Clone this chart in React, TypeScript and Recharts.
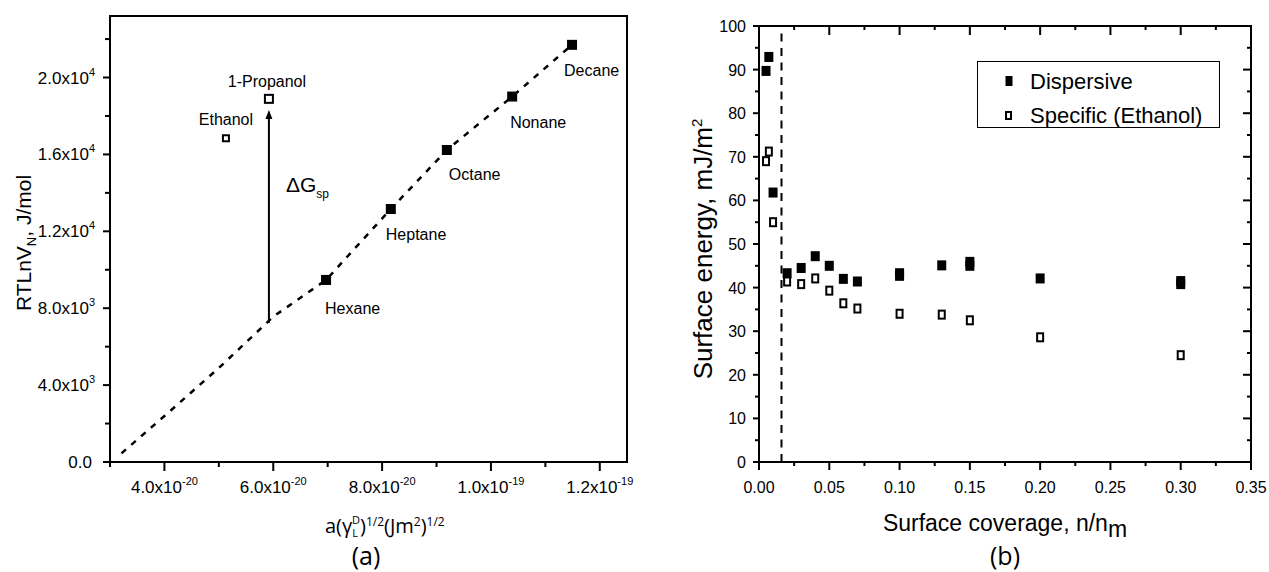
import React from 'react';
import { ComposedChart, Scatter, Line, XAxis, YAxis, ReferenceLine, Legend, Label } from 'recharts';

const FONT = '"Liberation Sans", Arial, sans-serif';
const FONT2 = '"Open Sans", "Liberation Sans", sans-serif';

// ---------- Panel (a) data (x in units of 1e-20) ----------
const alkaneNames = ['Hexane', 'Heptane', 'Octane', 'Nonane', 'Decane'];
const alkaneX = [6.97, 8.16, 9.19, 10.39, 11.49];
const alkaneY = [9470, 13160, 16230, 19010, 21700];
const alcoholNames = ['Ethanol', '1-Propanol'];
const alcoholX = [5.13, 5.92];
const alcoholY = [16840, 18890];
const trendX = [3.21, 4.0, 5.0, 6.0, 6.97, 8.16, 9.19, 10.39, 11.49];
const trendY = [450, 2390, 4890, 7560, 9470, 13160, 16230, 19010, 21700];
const deltaGX = 5.92;
const deltaGFrom = 7230;
const deltaGTo = 18310;
const aXDomain: [number, number] = [3, 12.5];
const aYDomain: [number, number] = [0, 23200];
const aXMajor = [4, 6, 8, 10, 12];
const aXMinor = [3, 5, 7, 9, 11];
const aXTickBase = ['4.0x10', '6.0x10', '8.0x10', '1.0x10', '1.2x10'];
const aXTickExp = ['-20', '-20', '-20', '-19', '-19'];
const aYMajor = [0, 4000, 8000, 12000, 16000, 20000];
const aYMinor = [2000, 6000, 10000, 14000, 18000, 22000];
const aYTickBase = ['0.0', '4.0x10', '8.0x10', '1.2x10', '1.6x10', '2.0x10'];
const aYTickExp = ['', '3', '3', '4', '4', '4'];

// ---------- Panel (b) data ----------
const seriesNames = ['Dispersive', 'Specific (Ethanol)'];
const dispX = [0.005, 0.007, 0.01, 0.02, 0.03, 0.04, 0.05, 0.06, 0.07, 0.10, 0.10, 0.13, 0.15, 0.15, 0.20, 0.30, 0.30];
const dispY = [89.7, 92.9, 61.8, 43.3, 44.5, 47.2, 45.0, 42.0, 41.4, 42.7, 43.3, 45.1, 45.0, 45.9, 42.1, 40.8, 41.5];
const specX = [0.005, 0.007, 0.01, 0.02, 0.03, 0.04, 0.05, 0.06, 0.07, 0.10, 0.13, 0.15, 0.20, 0.30];
const specY = [69.0, 71.2, 55.0, 41.4, 40.8, 42.1, 39.3, 36.4, 35.2, 34.0, 33.8, 32.5, 28.6, 24.5];
const monolayerLimit = 0.016;
const bXDomain: [number, number] = [0, 0.35];
const bYDomain: [number, number] = [0, 100];
const bXMajor = [0, 0.05, 0.1, 0.15, 0.2, 0.25, 0.3, 0.35];
const bXMinor = [0.025, 0.075, 0.125, 0.175, 0.225, 0.275, 0.325];
const bYMajor = [0, 10, 20, 30, 40, 50, 60, 70, 80, 90, 100];
const bYMinor = [5, 15, 25, 35, 45, 55, 65, 75, 85, 95];

// ---------- derived tables ----------
const alkanes = alkaneNames.map((n, i) => ({ name: n, x: alkaneX[i], y: alkaneY[i] }));
const alcohols = alcoholNames.map((n, i) => ({ name: n, x: alcoholX[i], y: alcoholY[i] }));
const trend = trendX.map((x, i) => ({ x, y: trendY[i] }));
const disp = dispX.map((x, i) => ({ x, y: dispY[i] }));
const spec = specX.map((x, i) => ({ x, y: specY[i] }));

// ---------- styles ----------
const axisStyle: any = { stroke: '#000', strokeWidth: 2, strokeLinecap: 'square' };
const labelPlace: Record<string, { dx: number; dy: number; anchor: 'start' | 'middle' }> = {
  Hexane: { dx: -1, dy: 34, anchor: 'start' },
  Heptane: { dx: -5, dy: 31, anchor: 'start' },
  Octane: { dx: 2, dy: 30, anchor: 'start' },
  Nonane: { dx: -2, dy: 31, anchor: 'start' },
  Decane: { dx: -8, dy: 31, anchor: 'start' },
  Ethanol: { dx: 0, dy: -13, anchor: 'middle' },
  '1-Propanol': { dx: -2, dy: -12, anchor: 'middle' },
};
const openSize: Record<string, number> = { Ethanol: 6, '1-Propanol': 8 };

const idx = (list: number[], v: number) => list.findIndex((m) => Math.abs(m - v) < 1e-9);
const sortNum = (a: number[]) => [...a].sort((p, q) => p - q);

// ---------- Panel (a) ticks ----------
const BottomTickA = (props: any) => {
  const { x, y, payload } = props;
  const i = idx(aXMajor, payload.value);
  const major = i >= 0;
  return (
    <g>
      <line x1={x} y1={y} x2={x} y2={y + (major ? 9 : 5)} stroke="#000" strokeWidth={2} />
      {major && (
        <text x={x} y={y + 31} textAnchor="middle" fontSize={17} fontFamily={FONT} fill="#000">
          {aXTickBase[i]}
          <tspan dy={-8} fontSize={11}>{aXTickExp[i]}</tspan>
        </text>
      )}
    </g>
  );
};

const LeftTickA = (props: any) => {
  const { x, y, payload } = props;
  const i = idx(aYMajor, payload.value);
  const major = i >= 0;
  return (
    <g>
      <line x1={x - (major ? 7 : 5)} y1={y} x2={x} y2={y} stroke="#000" strokeWidth={2} />
      {major && (
        <text x={x - (aYTickExp[i] ? 15 : 18)} y={y + 6} textAnchor="end" fontSize={17} fontFamily={FONT} fill="#000">
          {aYTickBase[i]}
          {aYTickExp[i] ? <tspan dy={-8} fontSize={11}>{aYTickExp[i]}</tspan> : null}
        </text>
      )}
    </g>
  );
};

// ---------- Panel (b) ticks ----------
const BottomTickB = (props: any) => {
  const { x, y, payload } = props;
  const major = idx(bXMajor, payload.value) >= 0;
  return (
    <g>
      <line x1={x} y1={y} x2={x} y2={y + (major ? 8 : 4)} stroke="#000" strokeWidth={2} />
      {major && (
        <text x={x} y={y + 31} textAnchor="middle" fontSize={16} fontFamily={FONT} fill="#000">
          {Number(payload.value).toFixed(2)}
        </text>
      )}
    </g>
  );
};
const TopTickB = (props: any) => {
  const { x, y, payload } = props;
  const major = idx(bXMajor, payload.value) >= 0;
  return <line x1={x} y1={y} x2={x} y2={y + (major ? 9 : 4)} stroke="#000" strokeWidth={2} />;
};
const LeftTickB = (props: any) => {
  const { x, y, payload } = props;
  const major = idx(bYMajor, payload.value) >= 0;
  return (
    <g>
      <line x1={x - (major ? 6 : 4)} y1={y} x2={x} y2={y} stroke="#000" strokeWidth={2} />
      {major && (
        <text x={x - 13} y={y + 6} textAnchor="end" fontSize={16} fontFamily={FONT} fill="#000">
          {String(payload.value)}
        </text>
      )}
    </g>
  );
};
const RightTickB = (props: any) => {
  const { x, y, payload } = props;
  const major = idx(bYMajor, payload.value) >= 0;
  return <line x1={x - (major ? 8 : 4)} y1={y} x2={x} y2={y} stroke="#000" strokeWidth={2} />;
};

// ---------- shapes ----------
const AlkaneShape = (props: any) => {
  const { cx, cy, payload } = props;
  const p = labelPlace[payload.name];
  return (
    <g>
      <rect x={cx - 5} y={cy - 5} width={10} height={10} fill="#000" />
      <text x={cx + p.dx} y={cy + p.dy} textAnchor={p.anchor} fontSize={16} fontFamily={FONT} fill="#000">
        {payload.name}
      </text>
    </g>
  );
};
const AlcoholShape = (props: any) => {
  const { cx, cy, payload } = props;
  const p = labelPlace[payload.name];
  const s = openSize[payload.name];
  return (
    <g>
      <rect x={cx - s / 2} y={cy - s / 2} width={s} height={s} fill="#fff" stroke="#000" strokeWidth={2} />
      <text x={cx + p.dx} y={cy + p.dy} textAnchor={p.anchor} fontSize={16} fontFamily={FONT} fill="#000">
        {payload.name}
      </text>
    </g>
  );
};
const FilledB = (props: any) => {
  const { cx, cy } = props;
  return <rect x={cx - 4.5} y={cy - 5} width={9} height={10} fill="#000" />;
};
const OpenB = (props: any) => {
  const { cx, cy } = props;
  return <rect x={cx - 3} y={cy - 4} width={6} height={8} fill="#fff" stroke="#000" strokeWidth={2} />;
};

const ArrowShape = (props: any) => {
  const { x1, y1, x2, y2 } = props;
  const x = x1;
  const tip = Math.min(y1, y2);
  const base = Math.max(y1, y2);
  return (
    <g>
      <line x1={x} y1={base} x2={x2} y2={tip + 7} stroke="#000" strokeWidth={2} />
      <polygon points={`${x},${tip} ${x - 3.5},${tip + 9} ${x + 3.5},${tip + 9}`} fill="#000" />
      <text x={x + 17} y={tip + 82} fontSize={21} fontFamily={FONT} fill="#000">
        ΔG
        <tspan fontSize={12} dy={6}>sp</tspan>
      </text>
    </g>
  );
};

// ---------- axis titles ----------
const XTitleA = (props: any) => {
  const vb = props.viewBox || { x: 110, y: 462, width: 517 };
  return (
    <g>
      <text x={vb.x + 215} y={vb.y + 71} fontSize={20} fontFamily={FONT2} fill="#000">
        a(γ
        <tspan fontSize={11} dy={4}>L</tspan>
        <tspan fontSize={11} dx={-6} dy={-13}>D</tspan>
        <tspan dy={9}>)</tspan>
        <tspan fontSize={12} dy={-7}>1/2</tspan>
        <tspan dy={7}>(Jm</tspan>
        <tspan fontSize={12} dy={-7}>2</tspan>
        <tspan dy={7}>)</tspan>
        <tspan fontSize={12} dy={-7}>1/2</tspan>
      </text>
      <text x={vb.x + 256} y={vb.y + 103} textAnchor="middle" fontSize={25} fontFamily={FONT2} fill="#000">
        (a)
      </text>
    </g>
  );
};
const YTitleA = (props: any) => {
  const vb = props.viewBox || { x: 0, y: 16, height: 446 };
  const cx = vb.x + 31;
  const cy = vb.y + vb.height / 2 + 4;
  return (
    <text x={cx} y={cy} transform={`rotate(-90 ${cx} ${cy})`} textAnchor="middle" fontSize={21} fontFamily={FONT} fill="#000">
      RTLnV
      <tspan fontSize={13} dy={5}>N</tspan>
      <tspan dy={-5}>, J/mol</tspan>
    </text>
  );
};
const XTitleB = (props: any) => {
  const vb = props.viewBox || { x: 119, y: 462, width: 492 };
  const cx = vb.x + vb.width / 2;
  return (
    <g>
      <text x={cx} y={vb.y + 69} textAnchor="middle" fontSize={23} fontFamily={FONT} fill="#000">
        Surface coverage, n/n
        <tspan dy={6}>m</tspan>
      </text>
      <text x={cx} y={vb.y + 103} textAnchor="middle" fontSize={25} fontFamily={FONT2} fill="#000">
        (b)
      </text>
    </g>
  );
};
const YTitleB = (props: any) => {
  const vb = props.viewBox || { x: 0, y: 26, height: 436 };
  const cx = vb.x + 72;
  const cy = vb.y + vb.height / 2 + 5;
  return (
    <text x={cx} y={cy} transform={`rotate(-90 ${cx} ${cy})`} textAnchor="middle" fontSize={26} fontFamily={FONT} fill="#000">
      Surface energy, mJ/m
      <tspan fontSize={15} dy={-10}>2</tspan>
    </text>
  );
};

const LegendBox = () => (
  <div
    style={{
      position: 'relative',
      width: 243,
      height: 67,
      border: '1.5px solid #000',
      boxSizing: 'border-box',
      background: '#fff',
      fontFamily: FONT,
      fontSize: 22,
      color: '#000',
    }}
  >
    <svg width={243} height={67} style={{ position: 'absolute', left: -1.5, top: -1.5 }}>
      <rect x={28.5} y={15} width={7} height={10} fill="#000" />
      <rect x={29} y={51} width={5} height={7} fill="#fff" stroke="#000" strokeWidth={2} />
      <text x={53} y={28} fontSize={22} fontFamily={FONT} fill="#000">{seriesNames[0]}</text>
      <text x={53} y={62} fontSize={22} fontFamily={FONT} fill="#000">{seriesNames[1]}</text>
    </svg>
  </div>
);

const PanelA = () => (
  <ComposedChart width={640} height={572} margin={{ top: 15, right: 12, bottom: 0, left: 0 }}>
    <XAxis
      type="number"
      dataKey="x"
      domain={aXDomain}
      ticks={sortNum([...aXMajor, ...aXMinor])}
      interval={0}
      tickSize={0}
      tickMargin={0}
      tickLine={false}
      tick={<BottomTickA />}
      axisLine={axisStyle}
      height={110}
      allowDataOverflow
    >
      <Label content={<XTitleA />} />
    </XAxis>
    <XAxis xAxisId="top" orientation="top" type="number" dataKey="x" domain={aXDomain} tick={false} tickLine={false} axisLine={axisStyle} height={1} allowDataOverflow />
    <YAxis
      type="number"
      dataKey="y"
      domain={aYDomain}
      ticks={sortNum([...aYMajor, ...aYMinor])}
      interval={0}
      tickSize={0}
      tickMargin={0}
      tickLine={false}
      tick={<LeftTickA />}
      axisLine={axisStyle}
      width={110}
      allowDataOverflow
    >
      <Label content={<YTitleA />} />
    </YAxis>
    <YAxis yAxisId="right" orientation="right" type="number" dataKey="y" domain={aYDomain} tick={false} tickLine={false} axisLine={axisStyle} width={1} allowDataOverflow />
    <Line data={trend} dataKey="y" type="linear" stroke="#000" strokeWidth={2.5} strokeDasharray="6 7" dot={false} activeDot={false} isAnimationActive={false} />
    <ReferenceLine
      segment={[
        { x: deltaGX, y: deltaGFrom },
        { x: deltaGX, y: deltaGTo },
      ]}
      stroke="#000"
      shape={ArrowShape}
    />
    <Scatter data={alkanes} shape={AlkaneShape} isAnimationActive={false} />
    <Scatter data={alcohols} shape={AlcoholShape} isAnimationActive={false} />
  </ComposedChart>
);

const PanelB = () => (
  <ComposedChart width={629} height={572} margin={{ top: 25, right: 17, bottom: 0, left: 0 }}>
    <XAxis
      type="number"
      dataKey="x"
      domain={bXDomain}
      ticks={sortNum([...bXMajor, ...bXMinor])}
      interval={0}
      tickSize={0}
      tickMargin={0}
      tickLine={false}
      tick={<BottomTickB />}
      axisLine={axisStyle}
      height={110}
      allowDataOverflow
    >
      <Label content={<XTitleB />} />
    </XAxis>
    <XAxis
      xAxisId="top"
      orientation="top"
      type="number"
      dataKey="x"
      domain={bXDomain}
      ticks={sortNum([...bXMajor, ...bXMinor])}
      interval={0}
      tickSize={0}
      tickMargin={0}
      tickLine={false}
      tick={<TopTickB />}
      axisLine={axisStyle}
      height={1}
      allowDataOverflow
    />
    <YAxis
      type="number"
      dataKey="y"
      domain={bYDomain}
      ticks={sortNum([...bYMajor, ...bYMinor])}
      interval={0}
      tickSize={0}
      tickMargin={0}
      tickLine={false}
      tick={<LeftTickB />}
      axisLine={axisStyle}
      width={119}
      allowDataOverflow
    >
      <Label content={<YTitleB />} />
    </YAxis>
    <YAxis
      yAxisId="right"
      orientation="right"
      type="number"
      dataKey="y"
      domain={bYDomain}
      ticks={sortNum([...bYMajor, ...bYMinor])}
      interval={0}
      tickSize={0}
      tickMargin={0}
      tickLine={false}
      tick={<RightTickB />}
      axisLine={axisStyle}
      width={1}
      allowDataOverflow
    />
    <ReferenceLine x={monolayerLimit} stroke="#000" strokeWidth={2} strokeDasharray="8 6.5" />
    <Scatter name={seriesNames[0]} data={disp} shape={FilledB} isAnimationActive={false} />
    <Scatter name={seriesNames[1]} data={spec} shape={OpenB} isAnimationActive={false} />
    <Legend
      layout="vertical"
      align="center"
      verticalAlign="middle"
      wrapperStyle={{ left: 337, top: 61, width: 243, height: 67, right: 'auto', bottom: 'auto' }}
      content={() => <LegendBox />}
    />
  </ComposedChart>
);

export default function App() {
  return (
    <div style={{ position: 'absolute', left: 0, top: 0, width: 1269, height: 572, background: '#fff', overflow: 'hidden' }}>
      <div style={{ position: 'absolute', left: 0, top: 0 }}>
        <PanelA />
      </div>
      <div style={{ position: 'absolute', left: 640, top: 0 }}>
        <PanelB />
      </div>
    </div>
  );
}
